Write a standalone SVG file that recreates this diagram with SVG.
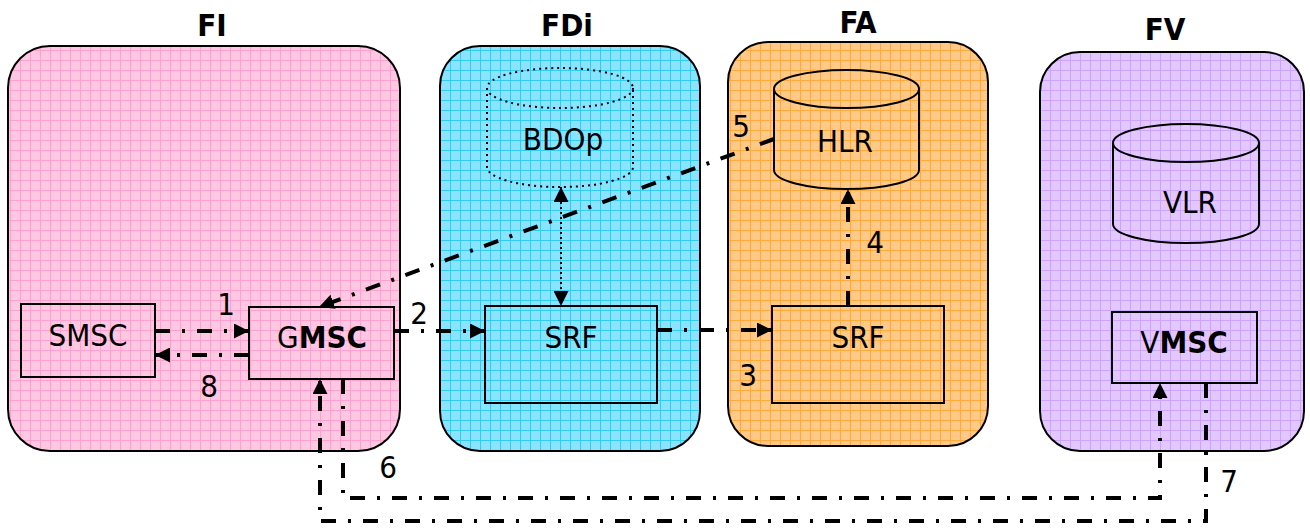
<svg xmlns="http://www.w3.org/2000/svg" width="1310" height="529" viewBox="0 0 1310 529">
<style>
.panel{stroke:#000;stroke-width:2}
.box{fill:none;stroke:#000;stroke-width:2}
.cyl{fill:none;stroke:#000;stroke-width:2}
.dotcyl{fill:none;stroke:#000;stroke-width:2;stroke-dasharray:2 4}
.title{font-family:"DejaVu Sans Condensed","DejaVu Sans",sans-serif;font-weight:bold;font-size:31px;text-anchor:middle;fill:#000}
.lbl{font-family:"DejaVu Sans Condensed","DejaVu Sans",sans-serif;font-size:31px;text-anchor:middle;fill:#000}
.num{font-family:"DejaVu Sans Condensed","DejaVu Sans",sans-serif;font-size:31px;text-anchor:middle;fill:#000}
.conn{fill:none;stroke:#000;stroke-width:4;stroke-dasharray:15 12 3 12}
.dotline{fill:none;stroke:#000;stroke-width:2;stroke-dasharray:2 3}
</style>
<defs>
<pattern id="gPink" width="10" height="10" patternUnits="userSpaceOnUse">
<rect width="10" height="10" fill="#ffc8e2"/><path d="M0 0.5H10M0.5 0V10" stroke="#ffa0d0" stroke-width="1"/>
</pattern>
<pattern id="gBlue" width="10" height="10" patternUnits="userSpaceOnUse">
<rect width="10" height="10" fill="#8ae4ff"/><path d="M0 0.5H10M0.5 0V10" stroke="#30ccf2" stroke-width="1"/>
</pattern>
<pattern id="gOrange" width="10" height="10" patternUnits="userSpaceOnUse">
<rect width="10" height="10" fill="#ffca88"/><path d="M0 0.5H10M0.5 0V10" stroke="#ffaa3a" stroke-width="1"/>
</pattern>
<pattern id="gPurple" width="10" height="10" patternUnits="userSpaceOnUse">
<rect width="10" height="10" fill="#e2c8ff"/><path d="M0 0.5H10M0.5 0V10" stroke="#cca4ff" stroke-width="1"/>
</pattern>
<marker id="arr" viewBox="0 0 14 14" refX="14" refY="7" markerWidth="15" markerHeight="15" markerUnits="userSpaceOnUse" orient="auto">
<path d="M0 0L14 7L0 14Z" fill="#000"/>
</marker>
<marker id="arrS" viewBox="0 0 14 14" refX="0" refY="7" markerWidth="15" markerHeight="15" markerUnits="userSpaceOnUse" orient="auto">
<path d="M14 0L0 7L14 14Z" fill="#000"/>
</marker>
</defs>

<g id="FI">
<rect class="panel" x="8" y="46" width="392" height="405" rx="42" fill="url(#gPink)"/>
<text class="title" x="212" y="36">FI</text>
</g>
<g id="FDi">
<rect class="panel" x="440" y="46" width="260" height="405" rx="40" fill="url(#gBlue)"/>
<text class="title" x="567" y="36">FDi</text>
</g>
<g id="FA">
<rect class="panel" x="728" y="42" width="260" height="404" rx="40" fill="url(#gOrange)"/>
<text class="title" x="858" y="33">FA</text>
</g>
<g id="FV">
<rect class="panel" x="1040" y="52" width="264" height="399" rx="40" fill="url(#gPurple)"/>
<text class="title" x="1165" y="40">FV</text>
</g>

<g id="SMSC">
<rect class="box" x="21" y="304" width="134" height="73"/>
<text class="lbl" x="88" y="346">SMSC</text>
</g>
<g id="GMSC">
<rect class="box" x="249" y="307" width="145" height="72"/>
<text class="lbl" x="322" y="348">G<tspan font-weight="bold">MSC</tspan></text>
</g>
<g id="SRF1">
<rect class="box" x="485" y="306" width="172" height="97"/>
<text class="lbl" x="571" y="348">SRF</text>
</g>
<g id="SRF2">
<rect class="box" x="772" y="306" width="172" height="97"/>
<text class="lbl" x="858" y="348">SRF</text>
</g>
<g id="VMSC">
<rect class="box" x="1112" y="312" width="145" height="71"/>
<text class="lbl" x="1184" y="353">V<tspan font-weight="bold">MSC</tspan></text>
</g>
<g id="BDOp">
<path class="dotcyl" d="M487 88V167A73 20 0 0 0 633 167V88"/>
<ellipse class="dotcyl" cx="560" cy="88" rx="73" ry="20"/>
<text class="lbl" x="563" y="150">BDOp</text>
</g>
<g id="HLR">
<path class="cyl" d="M774 89V170A72.5 19 0 0 0 919 170V89"/>
<ellipse class="cyl" cx="846.5" cy="89" rx="72.5" ry="19"/>
<text class="lbl" x="845" y="152">HLR</text>
</g>
<g id="VLR">
<path class="cyl" d="M1113 143V224A73 19 0 0 0 1259 224V143"/>
<ellipse class="cyl" cx="1186" cy="143" rx="73" ry="19"/>
<text class="lbl" x="1190" y="213">VLR</text>
</g>

<g id="connectors">
<path class="conn" d="M155 331H249" marker-end="url(#arr)"/>
<path class="conn" d="M249 355H155" marker-end="url(#arr)"/>
<path class="conn" d="M394 331H485" marker-end="url(#arr)"/>
<path class="conn" d="M657 330H772" marker-end="url(#arr)"/>
<path class="conn" d="M848 306V189" marker-end="url(#arr)"/>
<path class="conn" d="M774 139L319 307" marker-end="url(#arr)"/>
<path class="dotline" d="M561 187V306" marker-start="url(#arrS)" marker-end="url(#arr)"/>
<path class="conn" d="M343 379V498H1160V383" marker-end="url(#arr)"/>
<path class="conn" d="M1206 383V521H320V379" marker-end="url(#arr)"/>
<text class="num" x="226" y="315">1</text>
<text class="num" x="419" y="324">2</text>
<text class="num" x="748" y="386">3</text>
<text class="num" x="875" y="253">4</text>
<text class="num" x="741" y="137">5</text>
<text class="num" x="388" y="478">6</text>
<text class="num" x="1229" y="492">7</text>
<text class="num" x="209" y="397">8</text>
</g>
</svg>
